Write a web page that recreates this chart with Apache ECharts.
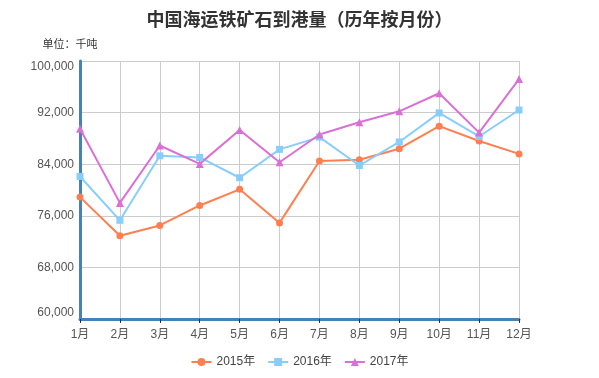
<!DOCTYPE html>
<html><head><meta charset="utf-8">
<script src="https://cdn.jsdelivr.net/npm/echarts@6/dist/echarts.min.js"></script>
<style>html,body{margin:0;padding:0;background:#fff}#c{width:599px;height:378px}</style>
</head><body><div id="c"></div>
<script>
const categories = ['1月','2月','3月','4月','5月','6月','7月','8月','9月','10月','11月','12月'];
const seriesNames = ['2015年','2016年','2017年'];
const data2015 = [78900, 72900, 74500, 77600, 80100, 74900, 84500, 84700, 86400, 89900, 87600, 85600];
const data2016 = [82100, 75300, 85300, 85050, 81900, 86300, 88200, 83800, 87450, 91950, 88300, 92400];
const data2017 = [89500, 78000, 86900, 84050, 89300, 84300, 88600, 90500, 92200, 95000, 88900, 97200];
const yMin = 60000, yMax = 100000, yInterval = 8000;

const chart = echarts.init(document.getElementById('c'));
const font = '"Liberation Sans", "Noto Sans CJK SC", sans-serif';
chart.setOption({
  animation: false,
  color: ['#ff7f50', '#87cefa', '#da70d6'],
  title: {
    text: '中国海运铁矿石到港量（历年按月份）',
    left: 'center', top: 5,
    textStyle: { fontSize: 18, fontWeight: 'bold', color: '#333', fontFamily: '"Noto Sans CJK SC", sans-serif' }
  },
  legend: {
    data: seriesNames, bottom: 5, itemWidth: 20, itemHeight: 10, itemGap: 12,
    textStyle: { fontSize: 12, color: '#444', fontFamily: font }
  },
  grid: { left: 80, right: 80, top: 61, bottom: 59, containLabel: false },
  xAxis: {
    type: 'category', data: categories, boundaryGap: false,
    axisLine: { lineStyle: { color: '#4682b4', width: 3 } },
    axisTick: { show: true, lineStyle: { color: '#333' }, length: 4, alignWithLabel: true },
    axisLabel: { color: '#555', fontSize: 12, fontFamily: font, margin: 10 },
    splitLine: { show: true, lineStyle: { color: '#ccc' } }
  },
  yAxis: {
    type: 'value', min: yMin, max: yMax, interval: yInterval,
    name: '单位：千吨', nameLocation: 'end', nameGap: 12,
    nameTextStyle: { color: '#333', fontSize: 11, fontFamily: '"Noto Sans CJK SC", sans-serif', padding: [0, 20, 0, 0] },
    axisLine: { show: true, lineStyle: { color: '#4682b4', width: 3 } },
    axisTick: { show: false },
    axisLabel: {
      color: '#555', fontSize: 12, fontFamily: font, margin: 6,
      verticalAlignMaxLabel: 'top', verticalAlignMinLabel: 'bottom',
      formatter: v => v.toLocaleString('en-US')
    },
    splitLine: { show: true, lineStyle: { color: '#ccc' } }
  },
  series: [
    { name: seriesNames[0], type: 'line', data: data2015, symbol: 'circle', symbolSize: 7, lineStyle: { width: 2 } },
    { name: seriesNames[1], type: 'line', data: data2016, symbol: 'rect', symbolSize: 7, lineStyle: { width: 2 } },
    { name: seriesNames[2], type: 'line', data: data2017, symbol: 'triangle', symbolSize: 8, lineStyle: { width: 2 } }
  ]
});
</script></body></html>
